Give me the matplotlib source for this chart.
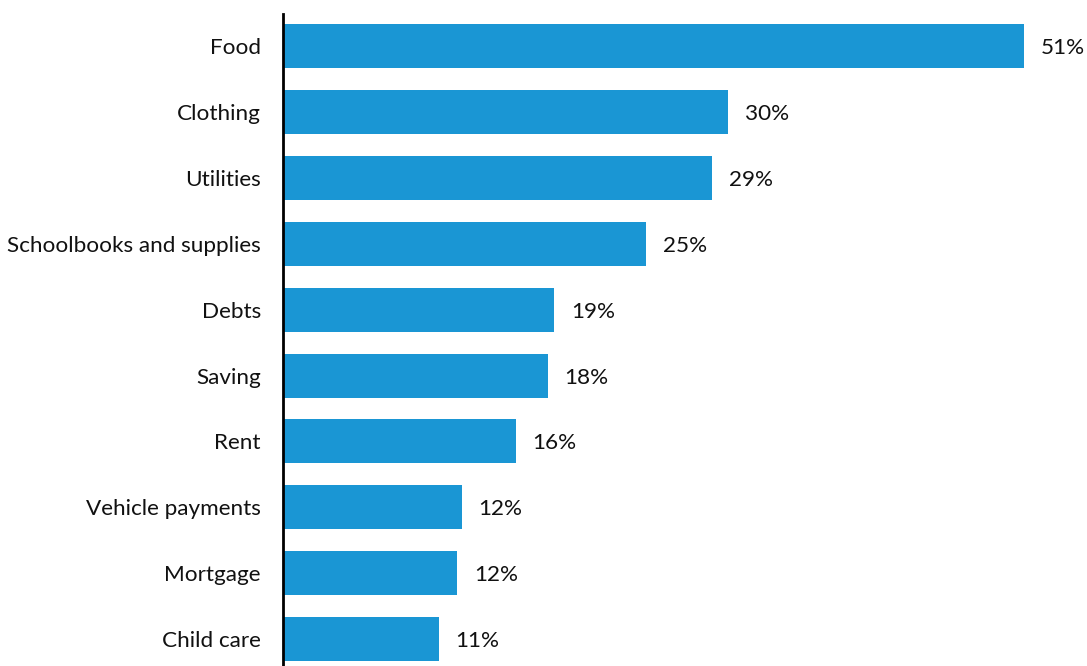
import matplotlib.pyplot as plt

categories = ['Food', 'Clothing', 'Utilities', 'Schoolbooks and supplies', 'Debts',
              'Saving', 'Rent', 'Vehicle payments', 'Mortgage', 'Child care']
values = [51, 30.6, 29.5, 25.0, 18.65, 18.2, 16.0, 12.3, 12.0, 10.7]
labels = ['51%', '30%', '29%', '25%', '19%', '18%', '16%', '12%', '12%', '11%']

plt.rcParams['font.family'] = ['Lato', 'DejaVu Sans']

fig = plt.figure(figsize=(10.87, 6.66), dpi=100)
ax = fig.add_axes([283 / 1087, 0, 1 - 283 / 1087, 1 - 14 / 666])

y = range(len(categories))
ax.barh(y, values, height=0.67, color='#1a96d4')

for i, (v, lab) in enumerate(zip(values, labels)):
    ax.text(v + 1.15, i + 0.03, lab, va='center', ha='left', fontsize=16.2, color='#111111')

ax.set_yticks(list(y))
ax.set_yticklabels(categories, fontsize=16.2, color='#111111')
ax.tick_params(axis='y', length=0, pad=16)
ax.set_xticks([])
ax.set_xlim(0, 55.3)
ax.set_ylim(9.41, -0.49)

for s in ['top', 'right', 'bottom']:
    ax.spines[s].set_visible(False)
ax.spines['left'].set_linewidth(2)
ax.spines['left'].set_color('black')

fig.savefig('out.png', dpi=100)
